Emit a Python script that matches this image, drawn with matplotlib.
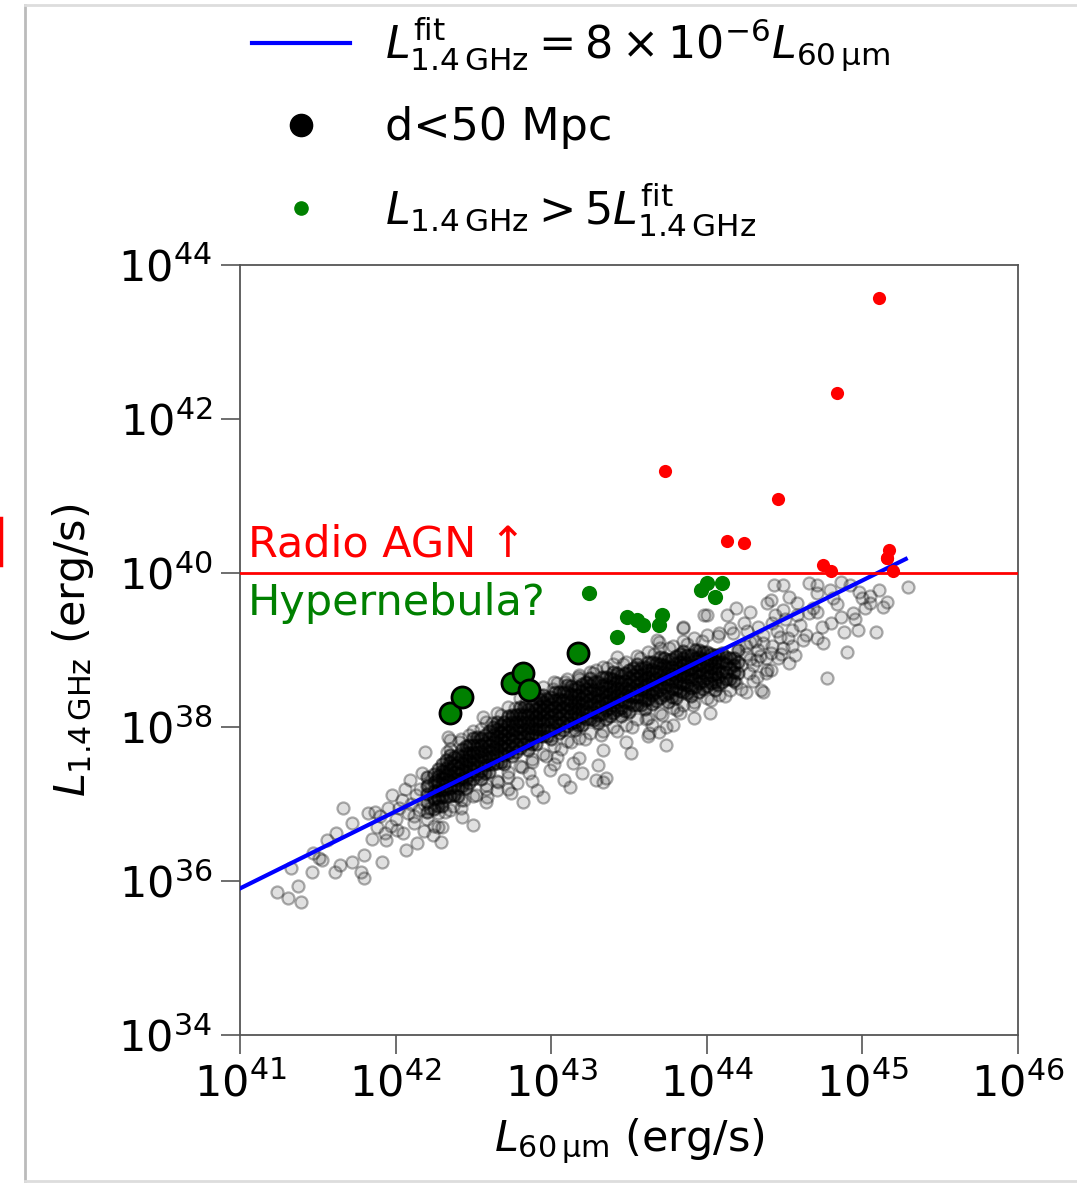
import numpy as np
import matplotlib
matplotlib.use("Agg")
import matplotlib.pyplot as plt
from matplotlib.lines import Line2D
from matplotlib.ticker import FixedLocator, NullLocator, LogFormatterMathtext

plt.rcParams['font.family'] = ['DejaVu Sans']
plt.rcParams['mathtext.fontset'] = 'dejavusans'

# all values are log10(L / erg s^-1): (L_60um, L_1.4GHz)

# dense core of the galaxy sample, one column per L_60um value
core_cols = [
    (42.20, [36.90, 37.02, 37.13, 37.24, 37.35]),
    (42.25, [36.94, 37.06, 37.17, 37.28, 37.39]),
    (42.30, [36.98, 37.09, 37.18, 37.26, 37.34, 37.43, 37.52]),
    (42.35, [37.11, 37.21, 37.30, 37.38, 37.46, 37.55, 37.64]),
    (42.40, [37.10, 37.21, 37.31, 37.39, 37.47, 37.55, 37.64]),
    (42.45, [37.21, 37.32, 37.41, 37.49, 37.57, 37.66, 37.75]),
    (42.50, [37.33, 37.43, 37.52, 37.60, 37.68, 37.77, 37.86]),
    (42.55, [37.32, 37.43, 37.53, 37.61, 37.69, 37.77, 37.86]),
    (42.60, [37.41, 37.52, 37.61, 37.69, 37.77, 37.86, 37.95]),
    (42.65, [37.53, 37.63, 37.72, 37.80, 37.88, 37.97, 38.06]),
    (42.70, [37.52, 37.63, 37.73, 37.81, 37.89, 37.97, 38.06]),
    (42.75, [37.62, 37.73, 37.82, 37.90, 37.98, 38.07, 38.16]),
    (42.80, [37.73, 37.83, 37.92, 38.00, 38.08, 38.17, 38.26]),
    (42.85, [37.70, 37.81, 37.91, 37.99, 38.07, 38.15, 38.24]),
    (42.90, [37.78, 37.89, 37.98, 38.06, 38.14, 38.23, 38.32]),
    (42.95, [37.88, 37.98, 38.07, 38.15, 38.23, 38.32, 38.41]),
    (43.00, [37.85, 37.96, 38.06, 38.14, 38.22, 38.30, 38.39]),
    (43.05, [37.92, 38.03, 38.12, 38.20, 38.28, 38.37, 38.46]),
    (43.10, [38.01, 38.11, 38.20, 38.28, 38.36, 38.45, 38.54]),
    (43.15, [37.96, 38.07, 38.17, 38.25, 38.33, 38.41, 38.50]),
    (43.20, [38.02, 38.13, 38.22, 38.30, 38.38, 38.47, 38.56]),
    (43.25, [38.10, 38.20, 38.29, 38.37, 38.45, 38.54, 38.63]),
    (43.30, [38.05, 38.16, 38.26, 38.34, 38.42, 38.50, 38.59]),
    (43.35, [38.11, 38.22, 38.31, 38.39, 38.47, 38.56, 38.65]),
    (43.40, [38.18, 38.28, 38.37, 38.45, 38.53, 38.62, 38.71]),
    (43.45, [38.14, 38.25, 38.35, 38.43, 38.51, 38.59, 38.68]),
    (43.50, [38.20, 38.31, 38.40, 38.48, 38.56, 38.65, 38.74]),
    (43.55, [38.29, 38.39, 38.48, 38.56, 38.64, 38.73, 38.82]),
    (43.60, [38.24, 38.35, 38.45, 38.53, 38.61, 38.69, 38.78]),
    (43.65, [38.30, 38.41, 38.50, 38.58, 38.66, 38.75, 38.84]),
    (43.70, [38.38, 38.48, 38.57, 38.65, 38.73, 38.82, 38.91]),
    (43.75, [38.33, 38.44, 38.54, 38.62, 38.70, 38.78, 38.87]),
    (43.80, [38.38, 38.49, 38.58, 38.66, 38.74, 38.83, 38.92]),
    (43.85, [38.46, 38.56, 38.65, 38.73, 38.81, 38.90, 38.99]),
    (43.90, [38.40, 38.51, 38.61, 38.69, 38.77, 38.85, 38.94]),
    (43.95, [38.46, 38.57, 38.66, 38.74, 38.82, 38.91, 39.00]),
    (44.00, [38.53, 38.63, 38.72, 38.80, 38.88, 38.97]),
    (44.05, [38.48, 38.59, 38.69, 38.77, 38.85, 38.93]),
    (44.10, [38.58, 38.71, 38.84, 38.96]),
    (44.15, [38.62, 38.76, 38.90]),
    (44.20, [38.70, 38.85, 39.00]),
    (42.275, [36.97, 37.08, 37.18, 37.27, 37.36, 37.46]),
    (42.325, [37.09, 37.19, 37.29, 37.38, 37.47, 37.57]),
    (42.375, [37.12, 37.23, 37.33, 37.42, 37.51, 37.61]),
    (42.425, [37.24, 37.34, 37.44, 37.53, 37.62, 37.72]),
    (42.475, [37.27, 37.38, 37.48, 37.57, 37.66, 37.76]),
    (42.525, [37.39, 37.49, 37.59, 37.68, 37.77, 37.87]),
    (42.575, [37.40, 37.51, 37.61, 37.70, 37.79, 37.89]),
    (42.625, [37.52, 37.62, 37.72, 37.81, 37.90, 38.00]),
    (42.675, [37.54, 37.65, 37.75, 37.84, 37.93, 38.03]),
    (42.725, [37.66, 37.76, 37.86, 37.95, 38.04, 38.14]),
    (42.775, [37.67, 37.78, 37.88, 37.97, 38.06, 38.16]),
    (42.825, [37.78, 37.88, 37.98, 38.07, 38.16, 38.26]),
    (42.875, [37.78, 37.89, 37.99, 38.08, 38.17, 38.27]),
    (42.925, [37.88, 37.98, 38.08, 38.17, 38.26, 38.36]),
    (42.975, [37.88, 37.99, 38.09, 38.18, 38.27, 38.37]),
    (43.025, [37.97, 38.07, 38.17, 38.26, 38.35, 38.45]),
    (43.075, [37.96, 38.07, 38.17, 38.26, 38.35, 38.45]),
    (43.125, [38.05, 38.15, 38.25, 38.34, 38.43, 38.53]),
    (43.175, [38.03, 38.14, 38.24, 38.33, 38.42, 38.52]),
    (43.225, [38.11, 38.21, 38.31, 38.40, 38.49, 38.59]),
    (43.275, [38.09, 38.20, 38.30, 38.39, 38.48, 38.58]),
    (43.325, [38.17, 38.27, 38.37, 38.46, 38.55, 38.65]),
    (43.375, [38.14, 38.25, 38.35, 38.44, 38.53, 38.63]),
    (43.425, [38.22, 38.32, 38.42, 38.51, 38.60, 38.70]),
    (43.475, [38.21, 38.32, 38.42, 38.51, 38.60, 38.70]),
    (43.525, [38.29, 38.39, 38.49, 38.58, 38.67, 38.77]),
    (43.575, [38.28, 38.39, 38.49, 38.58, 38.67, 38.77]),
    (43.625, [38.36, 38.46, 38.56, 38.65, 38.74, 38.84]),
    (43.675, [38.34, 38.45, 38.55, 38.64, 38.73, 38.83]),
    (43.725, [38.42, 38.52, 38.62, 38.71, 38.80, 38.90]),
    (43.775, [38.39, 38.50, 38.60, 38.69, 38.78, 38.88]),
    (43.825, [38.47, 38.57, 38.67, 38.76, 38.85, 38.95]),
    (43.875, [38.44, 38.55, 38.65, 38.74, 38.83, 38.93]),
    (43.925, [38.52, 38.62, 38.72, 38.81, 38.90, 39.00]),
    (43.975, [38.49, 38.60, 38.70, 38.79, 38.88, 38.98]),
    (44.025, [38.57, 38.67, 38.77, 38.86, 38.95]),
    (44.075, [38.54, 38.65, 38.75, 38.84, 38.93]),
    (44.125, [38.62, 38.72, 38.82, 38.91]),
    (44.175, [38.60, 38.71, 38.81, 38.90]),
]

# scattered galaxies around the core
cloud_pts = [
    (41.24, 35.86), (41.31, 35.78), (41.39, 35.73), (41.37, 35.94), (41.33, 36.17),
    (41.46, 36.12), (41.53, 36.27), (41.61, 36.12), (41.64, 36.21), (41.72, 36.25),
    (41.78, 36.12), (41.80, 36.04), (41.80, 36.34), (41.91, 36.25), (41.66, 36.95),
    (41.72, 36.75), (41.82, 36.88), (41.62, 36.62), (41.51, 36.30), (41.56, 36.53),
    (41.47, 36.36), (41.88, 36.70), (41.94, 36.53), (42.01, 36.66), (42.07, 36.40),
    (42.14, 36.49), (42.29, 36.51), (42.24, 36.60), (42.09, 37.31), (42.19, 37.68),
    (42.35, 37.83), (41.85, 36.55), (41.90, 36.85), (41.95, 36.95), (41.97, 36.72),
    (42.00, 36.80), (42.02, 36.95), (42.04, 37.05), (42.05, 36.62), (42.08, 36.88),
    (42.10, 37.00), (42.12, 36.75), (42.13, 37.12), (42.15, 36.92), (42.16, 37.20),
    (42.18, 36.65), (42.18, 37.00), (42.20, 36.80), (42.21, 37.25), (42.22, 36.95),
    (42.24, 37.10), (42.25, 36.72), (42.26, 37.30), (42.27, 36.88), (42.28, 37.05),
    (42.30, 36.70), (42.31, 37.40), (41.98, 37.12), (41.93, 36.62), (41.87, 36.90),
    (42.06, 37.20), (42.27, 36.70), (42.50, 36.73), (42.43, 36.83), (42.82, 37.03),
    (42.59, 37.09), (42.65, 37.18), (42.74, 37.14), (42.91, 37.18), (42.99, 37.44),
    (43.08, 37.31), (43.12, 37.22), (43.29, 37.31), (43.33, 37.29), (43.51, 37.66),
    (43.74, 37.77), (43.14, 37.53), (43.20, 37.40), (43.30, 37.51), (43.04, 37.61),
    (42.86, 37.40), (42.78, 37.27), (42.95, 37.09), (42.56, 38.13), (42.34, 37.87),
    (42.75, 38.13), (42.94, 38.35), (43.04, 38.57), (43.17, 38.65), (43.29, 38.74),
    (43.42, 38.91), (43.68, 39.13), (43.85, 39.28), (43.98, 39.45), (44.02, 38.18),
    (43.65, 38.03), (43.69, 37.94), (44.19, 38.57), (44.25, 38.45), (44.35, 38.48),
    (44.32, 38.65), (44.39, 38.74), (43.35, 37.34), (43.69, 39.10), (43.85, 39.30),
    (44.00, 39.45), (44.13, 39.45), (44.19, 39.55), (44.28, 39.49), (44.39, 39.61),
    (44.43, 39.84), (44.49, 39.84), (44.66, 39.87), (44.71, 39.84), (44.86, 39.88),
    (44.92, 39.84), (44.98, 39.75), (45.11, 39.78), (45.29, 39.82), (45.16, 39.62),
    (45.02, 39.55), (44.94, 39.48), (44.86, 39.43), (44.88, 39.23), (44.97, 39.26),
    (45.09, 39.23), (44.90, 38.97), (44.77, 38.64), (44.80, 39.35), (44.75, 39.09),
    (44.71, 39.16), (44.53, 38.83), (44.57, 38.94), (44.36, 38.45), (44.41, 38.74),
    (44.49, 39.03), (44.60, 39.32), (44.66, 39.48), (44.71, 39.49), (44.58, 39.61),
    (44.53, 39.69), (44.41, 39.65), (44.49, 39.52), (44.71, 39.74), (44.79, 39.78),
    (45.00, 39.68), (45.05, 39.61), (45.13, 39.56), (44.81, 39.68), (44.55, 39.26),
    (44.47, 39.17), (44.62, 39.13), (44.36, 39.09), (44.32, 38.87), (44.41, 38.96),
    (43.83, 38.18), (43.74, 38.00), (43.63, 37.92),
    (42.32, 36.90), (42.33, 37.68), (42.37, 36.98), (42.41, 37.80), (42.44, 37.05),
    (42.47, 37.90), (42.52, 37.12), (42.55, 37.98), (42.58, 37.20), (42.62, 38.05),
    (42.66, 37.28), (42.68, 38.15), (42.72, 37.35), (42.77, 38.25), (42.81, 37.48),
    (42.84, 38.33), (42.88, 37.55), (42.92, 38.42), (42.97, 37.62), (43.01, 38.50),
    (43.06, 37.72), (43.09, 38.58), (43.13, 37.80), (43.18, 38.62), (43.22, 37.85),
    (43.27, 38.70), (43.32, 37.90), (43.36, 38.76), (43.42, 37.95), (43.46, 38.82),
    (43.52, 38.00), (43.57, 38.90), (43.61, 38.10), (43.66, 38.95), (43.71, 38.15),
    (43.76, 39.02), (43.81, 38.22), (43.87, 39.08), (43.91, 38.28), (43.97, 39.12),
    (44.03, 38.35), (44.07, 39.18), (44.12, 38.40), (44.17, 39.22), (44.22, 38.50),
    (44.26, 39.25), (44.30, 38.60), (44.33, 39.30), (44.38, 38.70), (44.42, 39.35),
    (44.46, 38.90), (44.50, 39.40), (44.55, 39.05), (44.58, 39.45), (44.64, 39.20),
    (44.68, 39.55), (44.74, 39.30), (44.84, 39.60), (44.95, 39.40), (45.05, 39.70),
    (44.25, 38.95), (44.28, 39.10), (44.30, 38.80), (44.33, 39.00), (44.36, 39.20),
    (44.38, 38.90), (44.42, 39.05), (44.45, 39.25), (44.48, 38.95), (44.52, 39.15),
    (44.24, 39.35), (44.27, 38.70), (44.44, 39.45),
    (42.35, 37.72), (42.35, 36.92), (42.42, 37.85), (42.42, 36.95), (42.42, 37.05),
    (42.50, 37.95), (42.50, 37.10), (42.58, 38.06), (42.58, 37.25), (42.58, 37.02),
    (42.65, 38.18), (42.65, 37.30), (42.72, 38.26), (42.72, 37.42), (42.72, 37.20),
    (42.80, 38.38), (42.80, 37.50), (42.88, 38.44), (42.88, 37.58), (42.88, 37.30),
    (42.95, 38.52), (42.95, 37.65), (43.02, 38.58), (43.02, 37.75), (43.02, 37.52),
    (43.10, 38.62), (43.10, 37.82), (43.18, 38.68), (43.18, 37.86), (43.18, 37.60),
    (43.25, 38.72), (43.25, 37.92), (43.33, 38.78), (43.33, 37.95), (43.33, 37.70),
    (43.40, 38.82), (43.40, 38.00), (43.48, 38.85), (43.48, 38.02), (43.48, 37.80),
    (43.55, 38.92), (43.55, 38.10), (43.62, 38.98), (43.62, 38.12), (43.62, 37.88),
    (43.70, 39.02), (43.70, 38.18), (43.78, 39.05), (43.78, 38.25), (43.78, 38.02),
    (43.85, 39.12), (43.85, 38.28), (43.92, 39.16), (43.92, 38.32), (43.92, 38.12),
    (44.00, 39.20), (44.00, 38.38), (44.08, 39.22), (44.08, 38.42), (44.15, 39.28),
    (44.15, 38.48), (44.22, 38.80), (44.25, 39.05), (44.28, 38.88), (44.31, 39.12),
    (44.34, 38.92), (42.17, 37.40), (42.12, 36.85),
]

# radio AGN (red)
agn_x = [45.11, 44.84, 43.73, 44.46, 44.13, 44.24, 44.75, 44.80, 45.16, 45.17, 45.16, 45.20]
agn_y = [43.57, 42.34, 41.32, 40.96, 40.42, 40.39, 40.11, 40.02, 40.20, 40.30, 40.20, 40.02]

# radio excess, L_1.4GHz > 5 L_fit (green)
exc_x = [43.24, 43.42, 43.49, 43.55, 43.59, 43.69, 43.71, 43.96, 44.00, 44.05, 44.10]
exc_y = [39.74, 39.17, 39.43, 39.39, 39.32, 39.32, 39.45, 39.78, 39.87, 39.69, 39.87]

# radio excess and d < 50 Mpc
near_x = [42.35, 42.43, 42.75, 42.82, 42.86, 43.17]
near_y = [38.18, 38.39, 38.57, 38.70, 38.48, 38.96]

fit_coef = 8e-6
fit_x = [1e41, 1.9e45]

core_x = np.concatenate([[c] * len(ys) for c, ys in core_cols])
core_y = np.concatenate([ys for c, ys in core_cols])
cloud_x = np.array([p[0] for p in cloud_pts])
cloud_y = np.array([p[1] for p in cloud_pts])

fig = plt.figure(figsize=(10.77, 11.83), dpi=100)
ax = fig.add_axes([0.2228, 0.1251, 0.7224, 0.6509])

ax.scatter(10**cloud_x, 10**cloud_y, s=75, facecolor=(0, 0, 0, 0.12),
           edgecolor=(0, 0, 0, 0.32), linewidths=1.6, zorder=2)
ax.scatter(10**core_x, 10**core_y, s=75, facecolor=(0, 0, 0, 0.38),
           edgecolor=(0, 0, 0, 0.5), linewidths=1.6, zorder=2)

fx = np.array(fit_x)
ax.plot(fx, fit_coef * fx, color='blue', lw=3, zorder=3)
ax.axhline(1e40, color='red', lw=2, zorder=3)

ax.scatter(10**np.array(agn_x), 10**np.array(agn_y), s=90, color='red',
           linewidths=0, zorder=4)
ax.scatter(10**np.array(exc_x), 10**np.array(exc_y), s=120, color='green',
           linewidths=0, zorder=4)
ax.scatter(10**np.array(near_x), 10**np.array(near_y), s=230, facecolor='green',
           edgecolor='black', linewidths=2, zorder=5)

ax.text(10**41.05, 10**40.22, 'Radio AGN \u2191', color='red', fontsize=31,
        va='baseline', ha='left')
ax.text(10**41.05, 10**39.45, 'Hypernebula?', color='green', fontsize=31,
        va='baseline', ha='left')

ax.set_xscale('log')
ax.set_yscale('log')
ax.set_xlim(1e41, 1e46)
ax.set_ylim(1e34, 1e44)
ax.xaxis.set_major_locator(FixedLocator([10.0**k for k in range(41, 47)]))
ax.yaxis.set_major_locator(FixedLocator([10.0**k for k in range(34, 45, 2)]))
ax.xaxis.set_minor_locator(NullLocator())
ax.yaxis.set_minor_locator(NullLocator())
ax.xaxis.set_major_formatter(LogFormatterMathtext())
ax.yaxis.set_major_formatter(LogFormatterMathtext())
ax.tick_params(direction='out', length=14, width=1.2, color='#555555',
               labelsize=31, top=False, right=False, pad=6)
for sp in ax.spines.values():
    sp.set_color('#555555')
    sp.set_linewidth(1.3)

ax.set_xlabel(r'$L_{\rm 60\,\mu m}$ (erg/s)', fontsize=31, labelpad=8)
ax.set_ylabel(r'$L_{\rm 1.4\,GHz}$ (erg/s)', fontsize=31, labelpad=16)

handles = [
    Line2D([], [], color='blue', lw=3),
    Line2D([], [], ls='none', marker='o', color='black', markersize=16),
    Line2D([], [], ls='none', marker='o', color='green', markersize=9.5),
]
labels = [
    r'$L_{\rm 1.4\,GHz}^{\rm fit} = 8\times10^{-6}L_{\rm 60\,\mu m}$',
    'd<50 Mpc',
    r'$L_{\rm 1.4\,GHz} > 5L_{\rm 1.4\,GHz}^{\rm fit}$',
]
fig.legend(handles, labels, loc='upper left', bbox_to_anchor=(252 / 1077, 1 - 16 / 1183),
           frameon=False, fontsize=32, handlelength=2.2, handletextpad=0.8,
           labelspacing=0.72, borderpad=0, borderaxespad=0)

# screenshot border
fig.add_artist(Line2D([25 / 1077, 25 / 1077], [1 - 5 / 1183, 1 - 1181 / 1183],
                      transform=fig.transFigure, color='#bbbbbb', lw=2))
fig.add_artist(Line2D([25 / 1077, 1], [1 - 5 / 1183, 1 - 5 / 1183],
                      transform=fig.transFigure, color='#dddddd', lw=2))
fig.add_artist(Line2D([25 / 1077, 1], [1 - 1181 / 1183, 1 - 1181 / 1183],
                      transform=fig.transFigure, color='#dddddd', lw=2))
fig.add_artist(Line2D([1 / 1077, 1 / 1077], [1 - 518 / 1183, 1 - 565 / 1183],
                      transform=fig.transFigure, color='red', lw=2.5))

fig.savefig('out.png', dpi=100)
